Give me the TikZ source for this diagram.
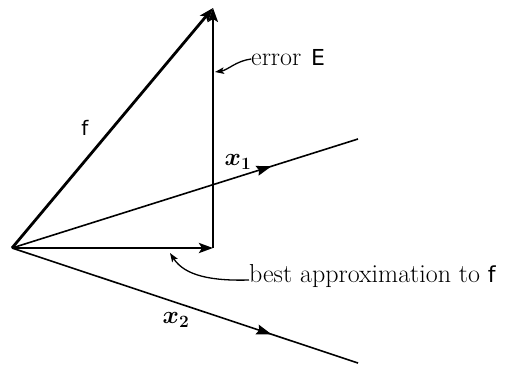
\documentclass[tikz,border=0pt]{standalone}
\usepackage{fontspec}
\newfontfamily\labsans{DejaVu Sans}
\usetikzlibrary{arrows.meta,decorations.markings}
\begin{document}
\begin{tikzpicture}[x=1pt,y=-1pt,
  thickvec/.style={line width=2.8pt,-{Stealth[length=14pt,width=10pt,inset=3pt]}},
  errvec/.style={line width=1.8pt,-{Stealth[length=14pt,width=10pt,inset=3pt]}},
  axis/.style={line width=1.6pt,postaction={decorate},decoration={markings,mark=at position 0.75 with {\arrow{Stealth[length=15pt,width=10pt,inset=2pt]}}}},
  pointer/.style={line width=1.3pt,-{Stealth[length=9pt,width=6.5pt,inset=2pt]}},
  txt/.style={font=\fontsize{26}{30}\selectfont,inner sep=0pt,anchor=base west},
  lab/.style={font=\fontsize{20}{24}\selectfont\labsans,inner sep=0pt}]
\useasboundingbox (0,0) rectangle (508,368);
\coordinate (O) at (12,248);
\coordinate (F) at (213,8);
\coordinate (B) at (213,248);
\coordinate (X1) at (358,139);
\coordinate (X2) at (358,363);
\coordinate (eTip) at (215,72);
\coordinate (bTip) at (170,253);
\draw[axis] (O) -- (X1);
\draw[axis] (O) -- (X2);
\draw[errvec] (B) -- (F);
\draw[thickvec] (O) -- (B);
\draw[thickvec] (O) -- (F);
\node[lab] (flab) at (85,128) {f};
\node[font=\fontsize{26}{30}\selectfont\boldmath,inner sep=0pt] (x1lab) at (238,162) {$x_1$};
\node[font=\fontsize{26}{30}\selectfont\boldmath,inner sep=0pt] (x2lab) at (176,320) {$x_2$};
\node[txt] (err) at (251,65) {error\hspace{2pt} {\labsans\fontsize{22}{26}\selectfont E}};
\node[txt] (best) at (249,282) {best approximation to {\labsans\fontsize{22}{26}\selectfont f}};
\draw[pointer] (err.base west) ++(0,-6) coordinate (eS) .. controls (236,61) and (228,70) .. (eTip);
\draw[pointer] (best.base west) ++(0,-2) coordinate (bS) .. controls (212,281) and (185,276) .. (bTip);
\end{tikzpicture}
\end{document}
